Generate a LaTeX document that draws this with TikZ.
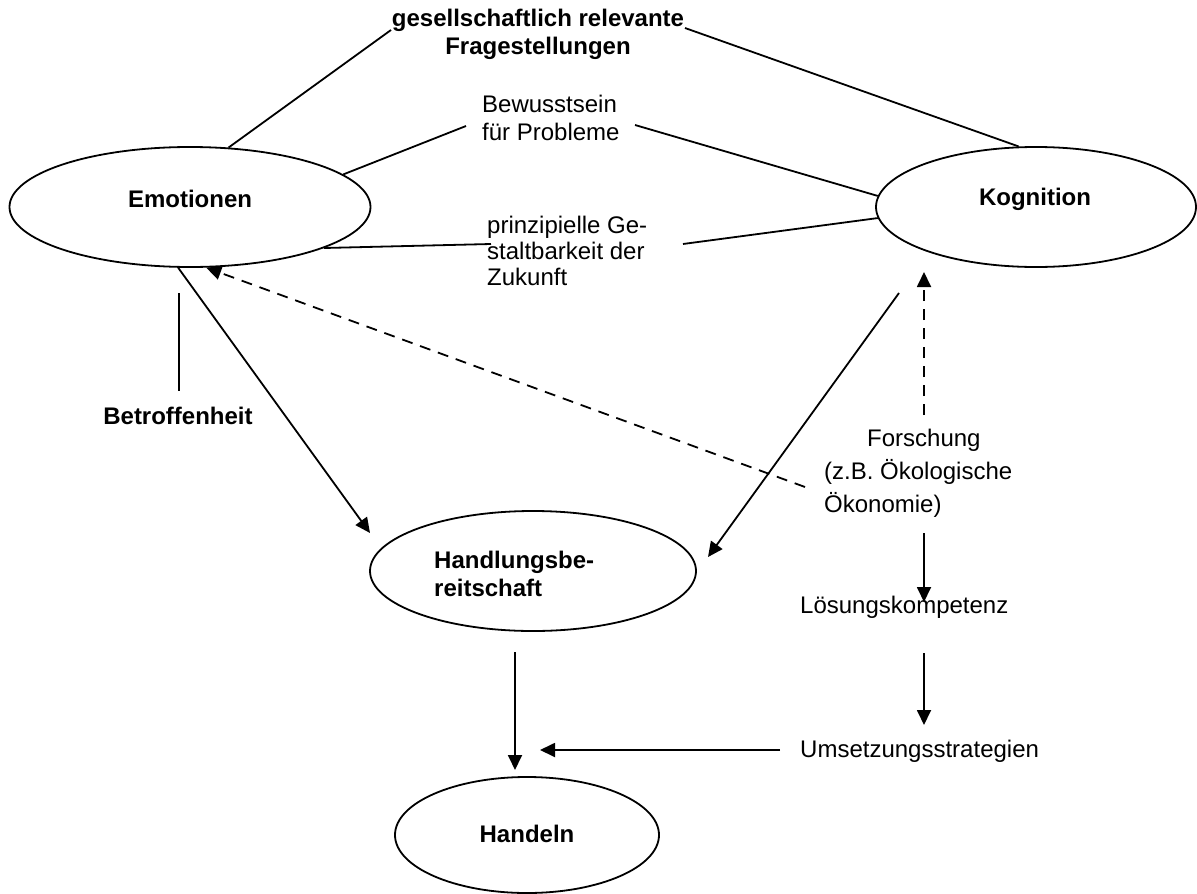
\documentclass[tikz,border=0pt]{standalone}
\usepackage{fontspec}
\setmainfont{Liberation Sans}
\usetikzlibrary{arrows.meta,shapes.geometric}
\begin{document}
\begin{tikzpicture}[x=1pt,y=-1pt,
  ell/.style={draw,ellipse,line width=1.8pt,inner sep=0pt},
  txt/.style={inner sep=0pt,font=\fontsize{24}{28}\selectfont},
  btxt/.style={inner sep=0pt,font=\fontsize{24}{28}\selectfont\bfseries},
  ln/.style={line width=1.8pt},
  arr/.style={line width=1.8pt,-{Triangle[length=15pt,width=14pt]}},
  darr/.style={arr,dash pattern=on 11pt off 8pt}]
\fill[white] (0,0) rectangle (1197,894);
\useasboundingbox (0,0) rectangle (1197,894);

% ellipses
\node[ell,minimum width=361pt,minimum height=120pt] (em) at (190,207) {};
\node[btxt] (emT) at (190,199) {Emotionen};
\node[ell,minimum width=320pt,minimum height=120pt] (kog) at (1036,207) {};
\node[btxt] (kogT) at (1035,199) {Kognition};
\node[ell,minimum width=326pt,minimum height=120pt] (hb) at (533,571) {};
\node[btxt,align=left,anchor=west] (hbT) at (434,574) {Handlungsbe-\\reitschaft};
\node[ell,minimum width=264pt,minimum height=116pt] (hd) at (527,835) {};
\node[btxt] (hdT) at (527,834) {Handeln};

% texts
\node[btxt,align=center] (ges) at (538,34) {gesellschaftlich relevante\\Fragestellungen};
\node[txt,align=left,anchor=west] (bew) at (482,118) {Bewusstsein\\für Probleme};
\node[txt,align=left,anchor=west,font=\fontsize{24}{26}\selectfont] (prin) at (487,251) {prinzipielle Ge-\\staltbarkeit der\\Zukunft};
\node[btxt] (betr) at (178,416) {Betroffenheit};
\node[txt,align=left,anchor=west,font=\fontsize{24}{33}\selectfont] (fo) at (824,473) {\hspace*{43pt}Forschung\\(z.B. Ökologische\\Ökonomie)};
\node[txt,anchor=west] (loe) at (800,607) {Lösungskompetenz};
\node[txt,anchor=west] (ums) at (800,751) {Umsetzungsstrategien};

% free ends
\coordinate (g1) at (391,30); \coordinate (g2) at (685,28);
\coordinate (b1) at (466,126); \coordinate (b2) at (635,125);
\coordinate (p1) at (491,244); \coordinate (p2) at (683,244);
\coordinate (bt1) at (179,293); \coordinate (bt2) at (179,391);
\coordinate (eha) at (370,533);
\coordinate (kha) at (899,293); \coordinate (khb) at (708,557);
\coordinate (da) at (805,487);
\coordinate (du1) at (924,415); \coordinate (du2) at (924,272);
\coordinate (f1) at (924,533); \coordinate (f2) at (924,602);
\coordinate (l1) at (924,653); \coordinate (l2) at (924,725);
\coordinate (u1) at (780,750); \coordinate (u2) at (540,750);
\coordinate (h1) at (515,652); \coordinate (h2) at (515,770);

% connectors
\draw[ln] (em.57) -- (g1);
\draw[ln] (g2) -- (kog.106);
\draw[ln] (em.12) -- (b1);
\draw[ln] (b2) -- (kog.176);
\draw[ln] (em.343) -- (p1);
\draw[ln] (p2) -- (kog.184);
\draw[ln] (bt1) -- (bt2);
\draw[arr] (em.259) -- (eha);
\draw[arr] (kha) -- (khb);
\draw[darr] (da) -- (em.285);
\draw[darr] (du1) -- (du2);
\draw[arr] (f1) -- (f2);
\draw[arr] (l1) -- (l2);
\draw[arr] (u1) -- (u2);
\draw[arr] (h1) -- (h2);
\end{tikzpicture}
\end{document}
